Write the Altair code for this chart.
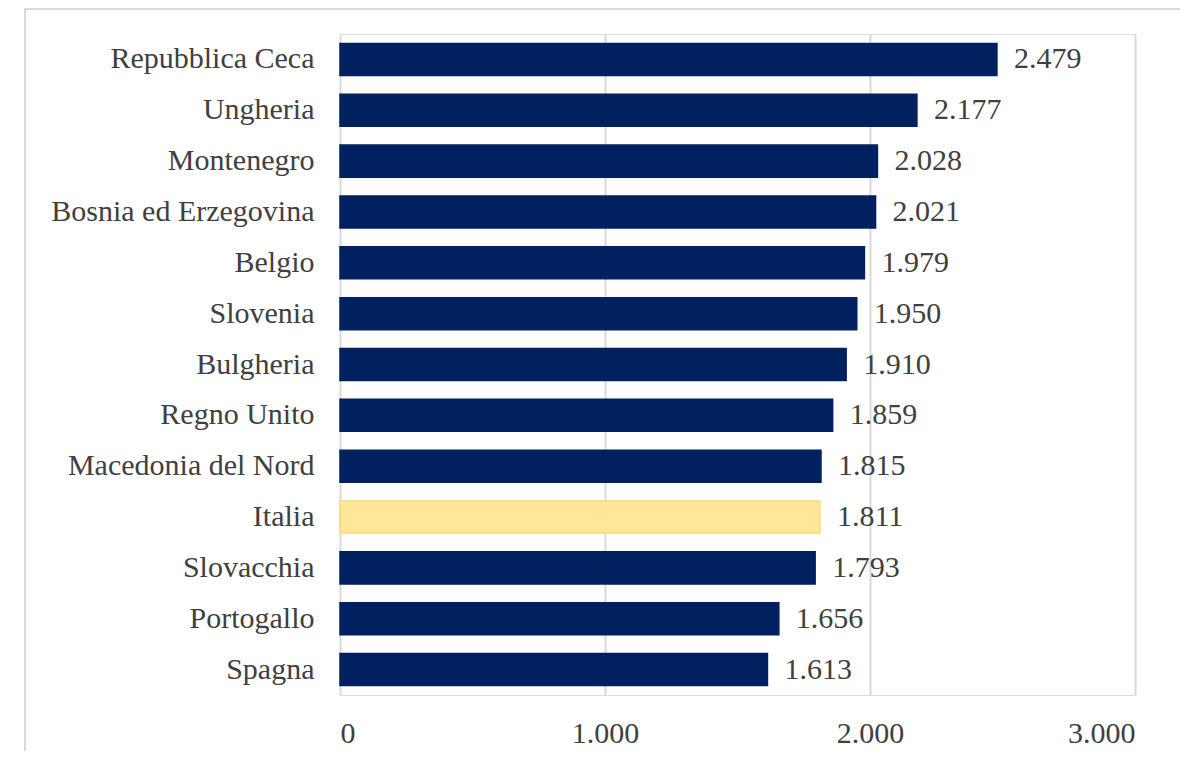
import altair as alt
import pandas as pd

countries = ["Repubblica Ceca", "Ungheria", "Montenegro", "Bosnia ed Erzegovina", "Belgio",
             "Slovenia", "Bulgheria\u00a0", "Regno Unito", "Macedonia del Nord", "Italia",
             "Slovacchia", "Portogallo", "Spagna"]
values = [2479, 2177, 2028, 2021, 1979, 1950, 1910, 1859, 1815, 1811, 1793, 1656, 1613]
highlight = "Italia"
x_ticks = [0, 1000, 2000, 3000]

df = pd.DataFrame({"paese": countries, "valore": values})
df["hl"] = df["paese"] == highlight

FONT = "Liberation Serif"
TXT = "#404040"
FS = 30
W, H = 795, 661
PADL, PADT = 332, 26
TOTW, TOTH = 1172, 743

y_enc = alt.Y("paese:N", sort=countries, title=None,
              scale=alt.Scale(paddingInner=0.37, paddingOuter=0.185),
              axis=alt.Axis(ticks=False, domain=False, labelFont=FONT, labelFontSize=FS,
                            labelColor=TXT, labelPadding=26, labelLimit=400, grid=False))
x_enc = alt.X("valore:Q", title=None,
              scale=alt.Scale(domain=[0, 3000], nice=False),
              axis=alt.Axis(values=x_ticks, ticks=False, domain=False, grid=True,
                            gridColor="#d9d9d9", gridWidth=2,
                            labelFont=FONT, labelFontSize=FS, labelColor=TXT, labelPadding=23,
                            labelExpr="replace(format(datum.value, ','), ',', '.')"))

base = alt.Chart(df)

bars = base.mark_bar(strokeWidth=1.5).encode(
    y=y_enc,
    x=x_enc,
    color=alt.condition("datum.hl", alt.value("#FFE699"), alt.value("#002060")),
    stroke=alt.condition("datum.hl", alt.value("#FFD966"), alt.value("#002060")),
)

labels = base.transform_calculate(
    lab="replace(format(datum.valore, ','), ',', '.')"
).mark_text(align="left", baseline="middle", dx=17, font=FONT, fontSize=FS, color=TXT).encode(
    y=alt.Y("paese:N", sort=countries),
    x=alt.X("valore:Q"),
    text="lab:N",
)

frame = alt.Chart(pd.DataFrame({"k": [0]})).mark_rect(
    fill=None, stroke="#d9d9d9", strokeWidth=2
).encode(
    x=alt.value(25 - 340), x2=alt.value(1300),
    y=alt.value(9 - 34), y2=alt.value(900),
)

chart = alt.layer(frame, bars, labels).properties(
    width=W, height=H,
    autosize=alt.AutoSizeParams(type="none"),
    padding={"left": PADL, "top": PADT, "right": TOTW - PADL - W, "bottom": TOTH - PADT - H},
).configure_view(stroke=None).configure(background="white")

chart.save("out.html", embed_options={"renderer": "svg", "actions": False})
